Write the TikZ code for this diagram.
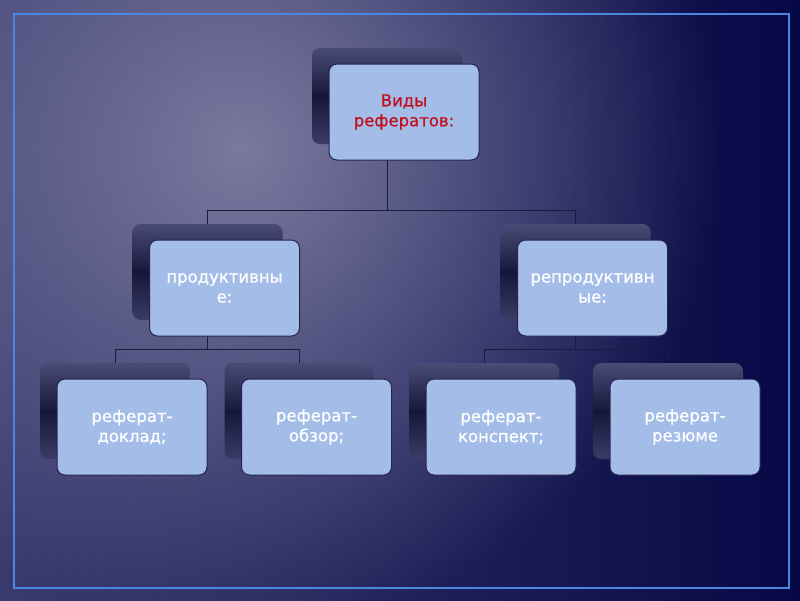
\documentclass[tikz,border=0pt]{standalone}
\usepackage{fontspec}
\setmainfont{DejaVu Sans}[BoldFont={DejaVu Sans}, BoldFeatures={FakeBold=0.7}]
\usetikzlibrary{calc,fadings}

\definecolor{bgleft}{HTML}{393B6F}
\definecolor{bgmid}{HTML}{23265F}
\definecolor{bgright}{HTML}{060945}
\definecolor{glowcol}{HTML}{7A799F}
\definecolor{framecol}{HTML}{4C86E0}
\definecolor{backtop}{HTML}{4A4C76}
\definecolor{backmid}{HTML}{15173A}
\definecolor{backbot}{HTML}{3A3C66}
\definecolor{boxfill}{HTML}{A4BDE8}
\definecolor{boxline}{HTML}{23254F}
\definecolor{linkcol}{HTML}{1A1C3E}
\definecolor{titlered}{HTML}{C0101E}

\tikzfading[name=glowfade, inner color=transparent!0, outer color=transparent!100]

\begin{document}
\begin{tikzpicture}[x=1pt,y=-1pt,
  backbox/.style={rounded corners=8pt, minimum width=150pt, minimum height=96pt,
    inner sep=0pt, top color=backtop, bottom color=backbot, middle color=backmid},
  frontbox/.style={rounded corners=8pt, minimum width=150pt, minimum height=96pt,
    fill=boxfill, draw=boxline, line width=1pt, align=center, text=white,
    font=\fontsize{16.5}{20}\selectfont\bfseries},
  link/.style={draw=linkcol, line width=0.9pt}]

  % background and frame
  \useasboundingbox (0,0) rectangle (800,600);
  \shade[left color=bgleft, middle color=bgmid, right color=bgright] (0,0) rectangle (800,600);
  \fill[glowcol, path fading=glowfade] (240,150) circle (480);
  \draw[framecol, line width=2.2pt] (14,14) rectangle (789,588);

  % back boxes
  \node[backbox] (vidy)   at (387,96)    {};
  \node[backbox] (prod)   at (207.5,272) {};
  \node[backbox] (reprod) at (575.5,272) {};
  \node[backbox] (doklad) at (115,411)   {};
  \node[backbox] (obzor)  at (299.5,411) {};
  \node[backbox] (konsp)  at (484,411)   {};
  \node[backbox] (rezume) at (668,411)   {};

  % connectors
  \draw[link] (vidy.south) -- ++(0,66) -| (prod.north);
  \draw[link] (vidy.south) ++(0,66) -| (reprod.north);
  \draw[link] (prod.south) -- ++(0,29) -| (doklad.north);
  \draw[link] (prod.south) ++(0,29) -| (obzor.north);
  \draw[link] (reprod.south) -- ++(0,29) -| (konsp.north);
  \draw[link] (reprod.south) ++(0,29) -| (rezume.north);

  % front boxes with the texts
  \node[frontbox, text=titlered] (vidyF) at ($(vidy)+(17,16)$) {Виды\\рефератов:};
  \node[frontbox] (prodF)   at ($(prod)+(17,16)$)   {продуктивны\\е:};
  \node[frontbox] (reprodF) at ($(reprod)+(17,16)$) {репродуктивн\\ые:};
  \node[frontbox] (dokladF) at ($(doklad)+(17,16)$) {реферат-\\доклад;};
  \node[frontbox] (obzorF)  at ($(obzor)+(17,16)$)  {реферат-\\обзор;};
  \node[frontbox] (konspF)  at ($(konsp)+(17,16)$)  {реферат-\\конспект;};
  \node[frontbox] (rezumeF) at ($(rezume)+(17,16)$) {реферат-\\резюме};
\end{tikzpicture}
\end{document}
